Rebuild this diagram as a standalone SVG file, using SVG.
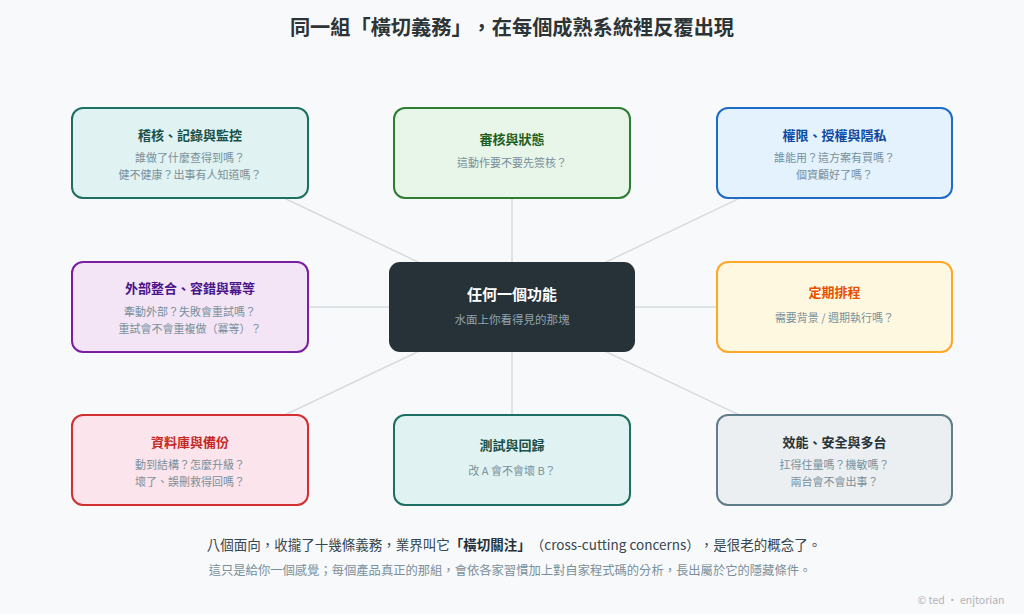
<svg xmlns="http://www.w3.org/2000/svg" width="1024" height="614" viewBox="0 0 1024 614">
<style>
text{font-family:"Noto Sans CJK TC","Noto Sans",sans-serif;text-anchor:middle;text-spacing-trim:space-all}
.ttl{font-size:20.2px;font-weight:700;fill:#2d3436}
.bt{font-size:13px;font-weight:700}
.bs{font-size:11px;fill:#78909c}
.box{stroke-width:2}
.conn line{stroke:#d6dbdf;stroke-width:1.5}
.f1{font-size:13.5px;fill:#37474f}
.f2{font-size:12.3px;fill:#78909c}
.cp{font-size:10.5px;fill:#b0b4b8}
</style>
<rect width="1024" height="614" fill="#f8f9fa"/>
<text class="ttl" x="512" y="35">同一組「橫切義務」，在每個成熟系統裡反覆出現</text>
<g class="conn">
<line x1="512" y1="307" x2="190" y2="153"/>
<line x1="512" y1="307" x2="512" y2="153"/>
<line x1="512" y1="307" x2="834" y2="153"/>
<line x1="512" y1="307" x2="190" y2="307"/>
<line x1="512" y1="307" x2="834" y2="307"/>
<line x1="512" y1="307" x2="190" y2="460"/>
<line x1="512" y1="307" x2="512" y2="460"/>
<line x1="512" y1="307" x2="834" y2="460"/>
</g>
<g id="audit">
<rect class="box" x="72" y="108" width="236" height="90" rx="11" fill="#e0f2f1" stroke="#1d6f62"/>
<text class="bt" x="190" y="140" fill="#17514a">稽核、記錄與監控</text>
<text class="bs" x="190" y="162">誰做了什麼查得到嗎？</text>
<text class="bs" x="190" y="179">健不健康？出事有人知道嗎？</text>
</g>
<g id="review">
<rect class="box" x="394" y="108" width="236" height="90" rx="11" fill="#e8f5e9" stroke="#2e7d32"/>
<text class="bt" x="512" y="144" fill="#1b5e20">審核與狀態</text>
<text class="bs" x="512" y="167">這動作要不要先簽核？</text>
</g>
<g id="auth">
<rect class="box" x="717" y="108" width="235" height="90" rx="11" fill="#e3f2fd" stroke="#1e6cc8"/>
<text class="bt" x="834.5" y="140" fill="#0d47a1">權限、授權與隱私</text>
<text class="bs" x="834.5" y="162">誰能用？這方案有買嗎？</text>
<text class="bs" x="834.5" y="179">個資顧好了嗎？</text>
</g>
<g id="integration">
<rect class="box" x="72" y="262" width="236" height="90" rx="11" fill="#f3e5f5" stroke="#7b1fa2"/>
<text class="bt" x="190" y="293" fill="#4a148c">外部整合、容錯與冪等</text>
<text class="bs" x="190" y="316">牽動外部？失敗會重試嗎？</text>
<text class="bs" x="190" y="333">重試會不會重複做（冪等）？</text>
</g>
<g id="center">
<rect x="389" y="262" width="246" height="90" rx="11" fill="#263238"/>
<text x="512" y="300" font-size="15" font-weight="700" fill="#ffffff">任何一個功能</text>
<text x="512" y="324" font-size="11.5" fill="#90a4ae">水面上你看得見的那塊</text>
</g>
<g id="schedule">
<rect class="box" x="717" y="262" width="235" height="90" rx="11" fill="#fff8e1" stroke="#ffa726"/>
<text class="bt" x="834.5" y="297" fill="#e65100">定期排程</text>
<text class="bs" x="834.5" y="322">需要背景 / 週期執行嗎？</text>
</g>
<g id="database">
<rect class="box" x="72" y="415" width="236" height="90" rx="11" fill="#fce4ec" stroke="#d32f2f"/>
<text class="bt" x="190" y="447" fill="#c62828">資料庫與備份</text>
<text class="bs" x="190" y="469">動到結構？怎麼升級？</text>
<text class="bs" x="190" y="486">壞了、誤刪救得回嗎？</text>
</g>
<g id="testing">
<rect class="box" x="394" y="415" width="236" height="90" rx="11" fill="#e0f2f1" stroke="#1d6f62"/>
<text class="bt" x="512" y="450" fill="#17514a">測試與回歸</text>
<text class="bs" x="512" y="475">改 A 會不會壞 B？</text>
</g>
<g id="performance">
<rect class="box" x="717" y="415" width="235" height="90" rx="11" fill="#eceff1" stroke="#607d8b"/>
<text class="bt" x="834.5" y="447" fill="#263238">效能、安全與多台</text>
<text class="bs" x="834.5" y="469">扛得住量嗎？機敏嗎？</text>
<text class="bs" x="834.5" y="486">兩台會不會出事？</text>
</g>
<text class="f1" x="514" y="550">八個面向，收攏了十幾條義務，業界叫它<tspan font-weight="700" fill="#263238">「橫切關注」</tspan>（cross-cutting concerns），是很老的概念了。</text>
<text class="f2" x="510" y="575">這只是給你一個感覺；每個產品真正的那組，會依各家習慣加上對自家程式碼的分析，長出屬於它的隱藏條件。</text>
<text class="cp" x="961" y="604">© ted · enjtorian</text>
</svg>
